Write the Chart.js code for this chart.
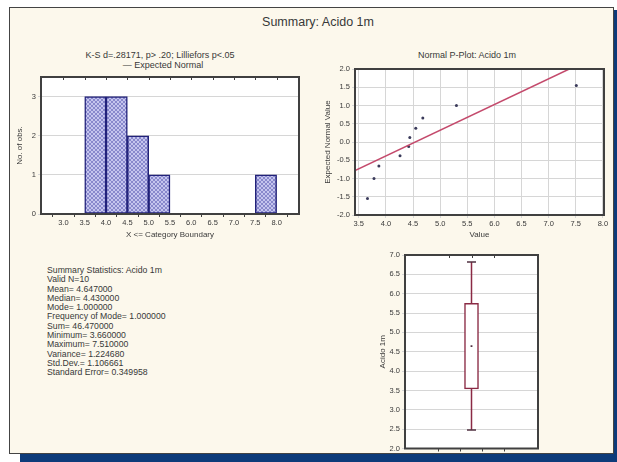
<!DOCTYPE html>
<html>
<head>
<meta charset="utf-8">
<script src="https://cdn.jsdelivr.net/npm/chart.js@4.4.1/dist/chart.umd.min.js"></script>
<style>
  body { margin:0; width:617px; height:462px; background:#fff; position:relative; overflow:hidden;
         font-family:"Liberation Sans", Arial, sans-serif; color:#383838; }
  #shadow { position:absolute; left:20px; top:10px; width:597px; height:452px; background:#0d3b7a; }
  #frame { position:absolute; left:9px; top:7px; width:603px; height:445px; border:1px solid #444; background:#fcf8ec; }
  .box { position:absolute; }
  .txt { position:absolute; white-space:nowrap; text-align:center; }
  #stats { position:absolute; left:47px; top:266px; font-size:8.7px; line-height:9.3px; text-align:left; white-space:pre; }
</style>
</head>
<body>
<div id="shadow"></div>
<div id="frame"></div>

<div class="txt" style="left:218px;top:15px;width:200px;font-size:12.5px;">Summary: Acido 1m</div>
<div class="txt" style="left:40px;top:50px;width:240px;font-size:9px;">K-S d=.28171, p&gt; .20; Lilliefors p&lt;.05</div>
<div class="txt" style="left:63px;top:60px;width:200px;font-size:9px;">&mdash; Expected Normal</div>
<div class="txt" style="left:367px;top:50px;width:200px;font-size:9px;">Normal P-Plot: Acido 1m</div>
<div id="stats"></div>

<div class="box" style="left:12px;top:70px;width:295px;height:172px;"><canvas id="hist"></canvas></div>
<div class="box" style="left:320px;top:62px;width:292px;height:180px;"><canvas id="pplot"></canvas></div>
<div class="box" style="left:372px;top:248px;width:176px;height:207px;"><canvas id="boxplot"></canvas></div>

<script>
// histogram: bins of width 0.5
const binStarts = [3.5, 4.0, 4.5, 5.0, 7.5];
const binCounts = [3, 3, 2, 1, 1];
const binWidth = 0.5;
const histXTicks = [3.0, 3.5, 4.0, 4.5, 5.0, 5.5, 6.0, 6.5, 7.0, 7.5, 8.0];
const histYTicks = [0, 1, 2, 3];

// normal probability plot
const sortedValues = [3.66, 3.78, 3.87, 4.26, 4.42, 4.44, 4.55, 4.68, 5.30, 7.51];
const expectedNormal = [-1.55, -1.00, -0.66, -0.38, -0.12, 0.12, 0.38, 0.66, 1.00, 1.55];
const fitLineX = [3.43, 7.38];
const fitLineY = [-0.78, 2.0];
const pplotXTicks = [3.5, 4.0, 4.5, 5.0, 5.5, 6.0, 6.5, 7.0, 7.5, 8.0];
const pplotYTicks = [-2.0, -1.5, -1.0, -0.5, 0.0, 0.5, 1.0, 1.5, 2.0];

// box plot: mean, box = mean +/- SD, whiskers = mean +/- 1.96*SD
const boxCenter = 4.647;
const boxRange = [3.54, 5.75];
const whiskerRange = [2.48, 6.82];
const boxYTicks = [2.0, 2.5, 3.0, 3.5, 4.0, 4.5, 5.0, 5.5, 6.0, 6.5, 7.0];
const boxXTicks = [0.5, 1, 1.5];

const statsLines = [
  'Summary Statistics: Acido 1m',
  'Valid N=10',
  'Mean= 4.647000',
  'Median= 4.430000',
  'Mode= 1.000000',
  'Frequency of Mode= 1.000000',
  'Sum= 46.470000',
  'Minimum= 3.660000',
  'Maximum= 7.510000',
  'Variance= 1.224680',
  'Std.Dev.= 1.106661',
  'Standard Error= 0.349958'
];
document.getElementById('stats').textContent = statsLines.join('\n');

Chart.defaults.font.family = '"Liberation Sans", Arial, sans-serif';
Chart.defaults.font.size = 7.5;
Chart.defaults.color = '#3a3a3a';
Chart.defaults.animation = false;
Chart.defaults.plugins.legend.display = false;
Chart.defaults.plugins.tooltip.enabled = false;
Chart.defaults.maintainAspectRatio = false;

const frame = {
  id: 'frame',
  beforeDraw(chart) {
    const {ctx, chartArea: a} = chart;
    ctx.save();
    ctx.fillStyle = '#ffffff';
    ctx.fillRect(a.left, a.top, a.width, a.height);
    ctx.restore();
  },
  afterDraw(chart, args, opts) {
    const {ctx, chartArea: a} = chart;
    ctx.save();
    ctx.strokeStyle = '#404040';
    ctx.lineWidth = 2;
    ctx.strokeRect(a.left, a.top, a.width, a.height);
    if (opts.topTicks) {
      const xs = chart.scales.x;
      ctx.lineWidth = 1;
      xs.ticks.forEach((t, i) => {
        const px = Math.round(xs.getPixelForTick(i)) + 0.5;
        ctx.beginPath();
        ctx.moveTo(px, a.top);
        ctx.lineTo(px, a.top + 3);
        ctx.stroke();
      });
    }
    ctx.restore();
  }
};
Chart.register(frame);

function fixTicks(values) {
  return scale => { scale.ticks = values.map(v => ({value: v})); };
}

function hatch() {
  const c = document.createElement('canvas');
  c.width = 4; c.height = 4;
  const g = c.getContext('2d');
  g.fillStyle = '#c4c4ee';
  g.fillRect(0, 0, 4, 4);
  g.fillStyle = '#8888cc';
  for (let i = 0; i < 4; i++) {
    g.fillRect(i, i, 1, 1);
    g.fillRect(3 - i, i, 1, 1);
  }
  return g.createPattern(c, 'repeat');
}

const gridColor = '#d6d6d6';

new Chart(document.getElementById('hist'), {
  type: 'bar',
  data: {
    datasets: [{
      data: binStarts.map((s, i) => ({x: s + binWidth / 2, y: binCounts[i]})),
      backgroundColor: hatch(),
      borderColor: '#22227a',
      borderWidth: 1.5,
      borderSkipped: false,
      barPercentage: 1,
      categoryPercentage: 1
    }]
  },
  options: {
    layout: {padding: {top: 7, right: 8}},
    plugins: {frame: {topTicks: true}},
    scales: {
      x: {
        type: 'linear', min: 2.75, max: 8.25,
        afterBuildTicks: fixTicks(histXTicks),
        afterFit: s => { s.height = 28; },
        grid: {drawOnChartArea: false, tickLength: 3, color: '#404040'},
        border: {display: false},
        ticks: {padding: 1, callback: v => v.toFixed(1), maxRotation: 0, autoSkip: false},
        title: {display: true, text: 'X <= Category Boundary', font: {size: 8}, padding: {top: 0, bottom: 2}}
      },
      y: {
        min: 0, max: 3.5,
        afterBuildTicks: fixTicks(histYTicks),
        afterFit: s => { s.width = 29; },
        grid: {color: gridColor, tickLength: 3},
        border: {display: false},
        ticks: {padding: 2},
        title: {display: true, text: 'No. of obs.', font: {size: 8}, padding: {top: 3, bottom: 0}}
      }
    }
  }
});

new Chart(document.getElementById('pplot'), {
  type: 'scatter',
  data: {
    datasets: [{
      data: fitLineX.map((x, i) => ({x: x, y: fitLineY[i]})),
      showLine: true,
      borderColor: '#c44a6c',
      borderWidth: 1.5,
      pointRadius: 0
    }, {
      data: sortedValues.map((x, i) => ({x: x, y: expectedNormal[i]})),
      pointRadius: 1.5,
      pointBackgroundColor: '#3a3a5a',
      pointBorderColor: '#3a3a5a',
      pointBorderWidth: 0
    }]
  },
  options: {
    layout: {padding: {top: 7, right: 8}},
    scales: {
      x: {
        type: 'linear', min: 3.43, max: 8.02,
        afterBuildTicks: fixTicks(pplotXTicks),
        afterFit: s => { s.height = 27; },
        grid: {color: gridColor, tickLength: 3},
        border: {display: false},
        ticks: {padding: 1, callback: v => v.toFixed(1), maxRotation: 0, autoSkip: false},
        title: {display: true, text: 'Value', font: {size: 8}, padding: {top: 0, bottom: 2}}
      },
      y: {
        min: -2, max: 2,
        afterBuildTicks: fixTicks(pplotYTicks),
        afterFit: s => { s.width = 35; },
        grid: {color: gridColor, tickLength: 3},
        border: {display: false},
        ticks: {padding: 2, callback: v => v.toFixed(1)},
        title: {display: true, text: 'Expected Normal Value', font: {size: 8}, padding: {top: 3, bottom: 0}}
      }
    }
  }
});

const boxColor = '#8a2a44';
new Chart(document.getElementById('boxplot'), {
  type: 'bar',
  data: {
    datasets: [{
      type: 'line',
      data: whiskerRange.map(v => ({x: 1, y: v})),
      borderColor: boxColor,
      borderWidth: 1.5,
      pointRadius: 0,
      order: 3
    }, {
      type: 'line',
      data: whiskerRange.map(v => ({x: 1, y: v})),
      showLine: false,
      pointStyle: 'line',
      pointRadius: 4.5,
      pointBorderColor: '#503040',
      pointBorderWidth: 1.5,
      order: 2
    }, {
      type: 'bar',
      data: [{x: 1, y: boxRange}],
      backgroundColor: '#ffffff',
      borderColor: boxColor,
      borderWidth: 1.5,
      borderSkipped: false,
      barThickness: 14,
      order: 1
    }, {
      type: 'line',
      data: [{x: 1, y: boxCenter}],
      showLine: false,
      pointStyle: 'rect',
      pointRadius: 1.3,
      pointBackgroundColor: '#503040',
      pointBorderWidth: 0,
      order: 0
    }]
  },
  options: {
    layout: {padding: {top: 7, right: 10}},
    plugins: {frame: {topTicks: true}},
    scales: {
      x: {
        type: 'linear', min: 0, max: 2,
        afterBuildTicks: fixTicks(boxXTicks),
        afterFit: s => { s.height = 6; },
        grid: {drawOnChartArea: false, tickLength: 3, color: '#404040'},
        border: {display: false},
        ticks: {display: false}
      },
      y: {
        min: 2, max: 7,
        afterBuildTicks: fixTicks(boxYTicks),
        afterFit: s => { s.width = 33; },
        grid: {color: gridColor, tickLength: 3},
        border: {display: false},
        ticks: {padding: 2, callback: v => v.toFixed(1)},
        title: {display: true, text: 'Acido 1m', font: {size: 8}, padding: {top: 6, bottom: 0}}
      }
    }
  }
});
</script>
</body>
</html>
